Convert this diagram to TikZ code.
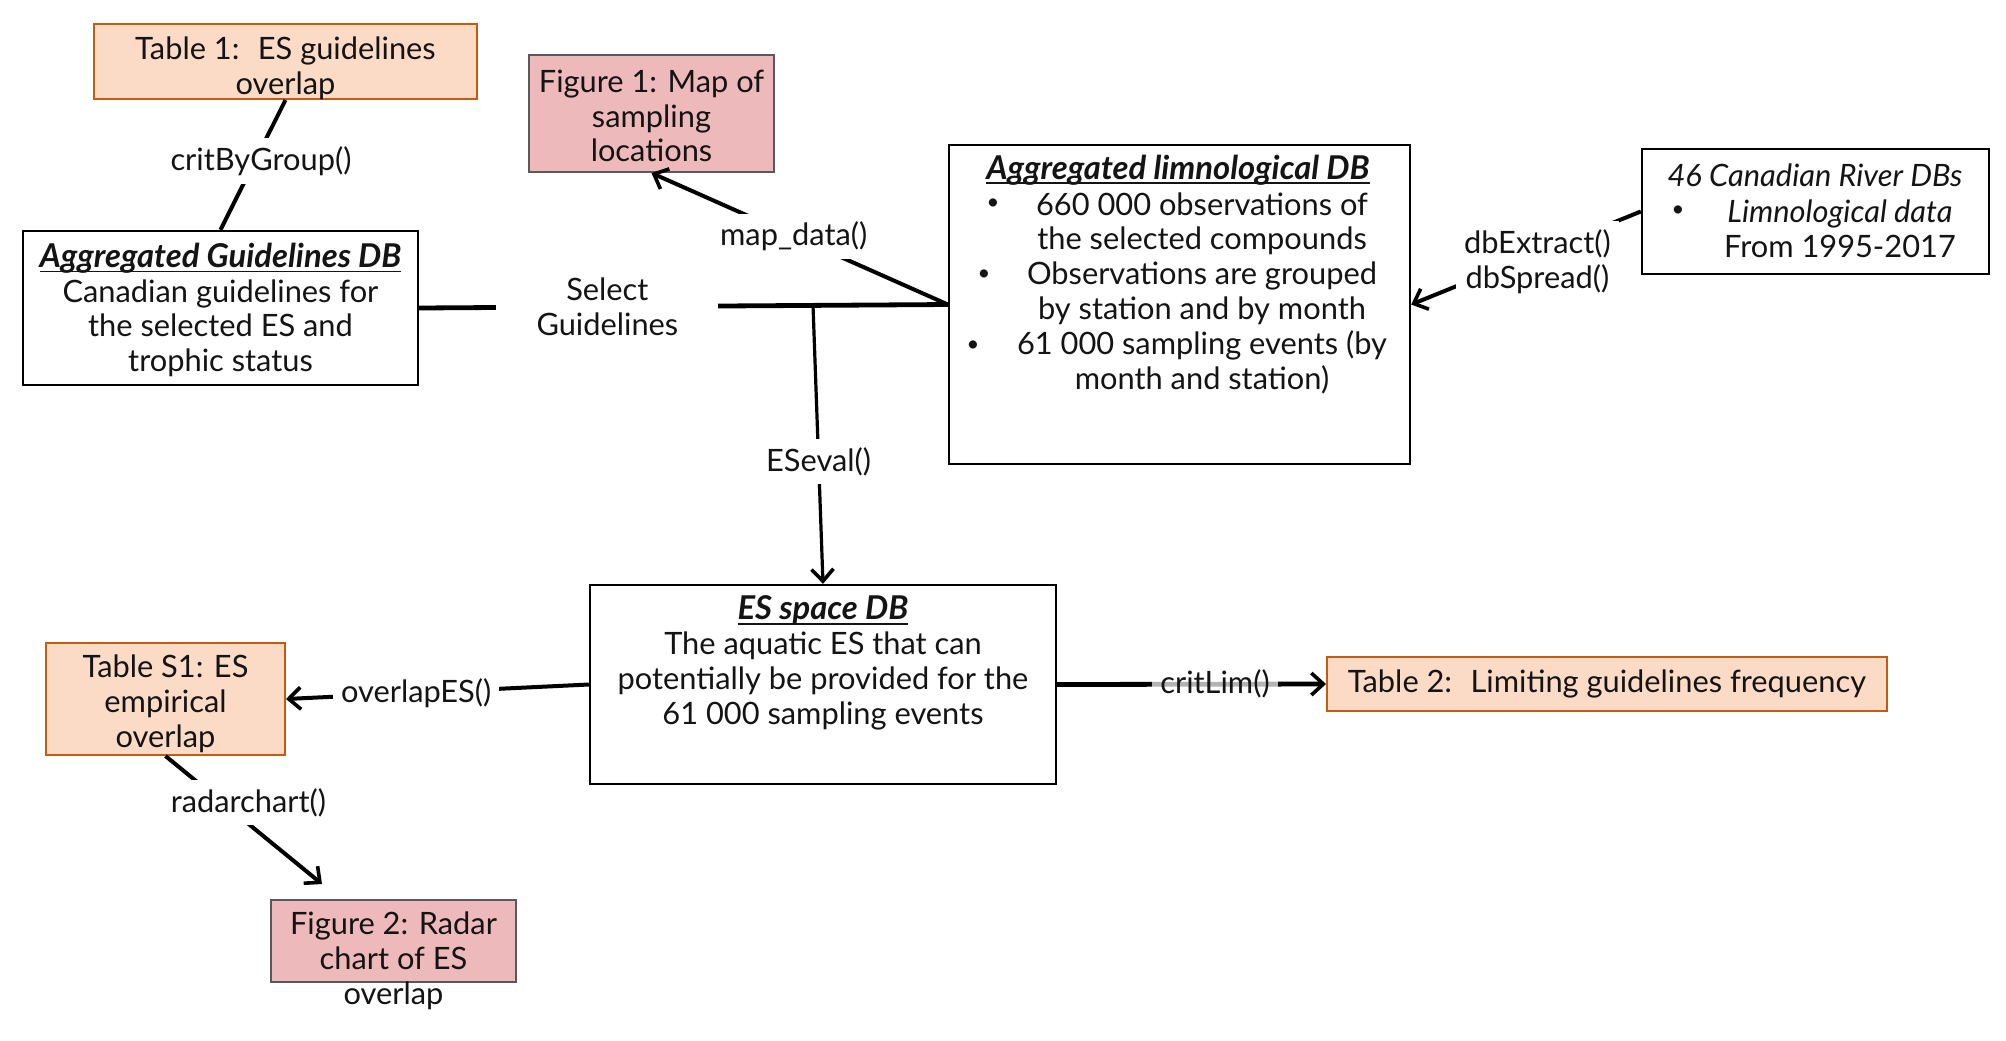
\documentclass[tikz,border=0pt]{standalone}
\usepackage{fontspec}
\setmainfont{Lato}
\usetikzlibrary{arrows.meta,calc}
\definecolor{peach}{RGB}{251,219,198}
\definecolor{peachdraw}{RGB}{197,90,17}
\definecolor{pinkfill}{RGB}{238,185,186}
\definecolor{greydraw}{RGB}{89,89,89}
\definecolor{txt}{RGB}{20,20,20}
\newcommand{\ttl}[1]{{\fontsize{16.4}{17.4}\selectfont\setbox0\hbox{\textbf{\textit{#1}}}\rlap{\rule[-2.4pt]{\wd0}{0.8pt}}\box0}}
\newcommand{\bul}{{\fontsize{11}{11}\selectfont •}}
\begin{document}
\begin{tikzpicture}[x=0.5pt,y=-0.5pt,
  every node/.style={font=\fontsize{15.4}{17.4}\selectfont, text=txt},
  box/.style={draw=black,line width=1.2pt,fill=white,inner sep=0pt},
  tbl/.style={draw=peachdraw,fill=peach,line width=1pt,inner sep=0pt},
  fig/.style={draw=greydraw,fill=pinkfill,line width=1pt,inner sep=0pt},
  txtnode/.style={align=center,inner sep=0pt},
  lbl/.style={fill=white,align=center,inner sep=4pt},
  conn/.style={line width=2pt,line cap=butt},
  arr/.style={conn,-{Straight Barb[length=6pt,width=11pt,line width=1.8pt]}},
]
\fill[white] (0,0) rectangle (2006,1040);
\useasboundingbox (0,0) rectangle (2006,1040);

% boxes
\node[tbl, minimum width=191.5pt, minimum height=37.5pt] (t1) at (285.5,61.5) {};
\node[fig, minimum width=122.5pt, minimum height=58.5pt] (f1) at (651.5,113.5) {};
\node[box, minimum width=197.5pt, minimum height=77pt] (aggG) at (220.5,308) {};
\node[box, minimum width=230.5pt, minimum height=159.5pt] (limno) at (1179.5,304.5) {};
\node[box, minimum width=173.5pt, minimum height=62.5pt] (can) at (1815.5,211.5) {};
\node[box, minimum width=233pt, minimum height=99.5pt] (esdb) at (823,684.5) {};
\node[tbl, minimum width=119.5pt, minimum height=56pt] (tS1) at (165.5,699) {};
\node[fig, minimum width=122.5pt, minimum height=41pt] (f2) at (393.5,941) {};
\node[tbl, minimum width=280pt, minimum height=27pt] (t2) at (1607,684) {};

% connectors
\coordinate (jn) at ($(aggG.east)!0.745!(limno.west)$);
\coordinate (rEnd) at (322,884);

\draw[conn] (t1.south) -- node[lbl, pos=0.47, xshift=3pt] (lcrit) {critByGroup()} (aggG.north);
\draw[conn, line width=2.4pt] (aggG.east) -- node[lbl, pos=0.356, minimum width=111pt, minimum height=43pt] (lsel) {Select\\Guidelines} (limno.west);
\draw[arr, line width=1.6pt] (jn) -- node[lbl, pos=0.56] (leval) {ESeval()} (esdb.north);
\draw[arr] (limno.west) -- node[lbl, pos=0.52] (lmap) {map\_data()} (f1.south);
\draw[arr] (can.west) -- node[lbl, pos=0.45, yshift=-4pt] (ldb) {dbExtract()\\dbSpread()} (limno.east);
\draw[arr] (esdb.west) -- node[lbl, pos=0.57] (lover) {overlapES()} (tS1.east);
\draw[arr] (tS1.south) -- node[lbl, pos=0.364, xshift=13pt] (lradar) {radarchart()} (rEnd);
\draw[arr, line width=2.4pt] (esdb.east) -- node[lbl, pos=0.587, fill opacity=0.7, text opacity=1] (lcl) {critLim()} (t2.west);

% texts
\node[txtnode] (t1t) at (285.5,68) {Table 1:~ ES guidelines\\overlap};
\node[txtnode] (f1t) at (651.5,116) {Figure 1: Map of\\sampling\\locations};
\node[txtnode] (aggGt) at (220.5,310) {\ttl{Aggregated Guidelines DB}\\Canadian guidelines for\\the selected ES and\\trophic status};
\node[txtnode] (limt) at (1178,170) {\ttl{Aggregated limnological DB}};
\node[txtnode] (limb) at (1202,293) {660 000 observations of\\the selected compounds\\Observations are grouped\\by station and by month\\61 000 sampling events (by\\month and station)};
\node[txtnode] (b1) at (993,204) {\bul};
\node[txtnode] (b2) at (984,275) {\bul};
\node[txtnode] (b3) at (973,346) {\bul};
\node[txtnode] (cant) at (1815,175) {\textit{46 Canadian River DBs}};
\node[txtnode] (canb) at (1840,229) {\textit{Limnological data}\\From 1995-2017};
\node[txtnode] (b4) at (1678,211) {\bul};
\node[txtnode] (est) at (823,663) {\ttl{ES space DB}\\The aquatic ES that can\\potentially be provided for the\\61 000 sampling events};
\node[txtnode] (tS1t) at (165.5,704) {Table S1: ES\\empirical\\overlap};
\node[txtnode] (f2t) at (393.5,961) {Figure 2: Radar\\chart of ES\\overlap};
\node[txtnode] (t2t) at (1607,684) {Table 2:~ Limiting guidelines frequency};
\end{tikzpicture}
\end{document}
